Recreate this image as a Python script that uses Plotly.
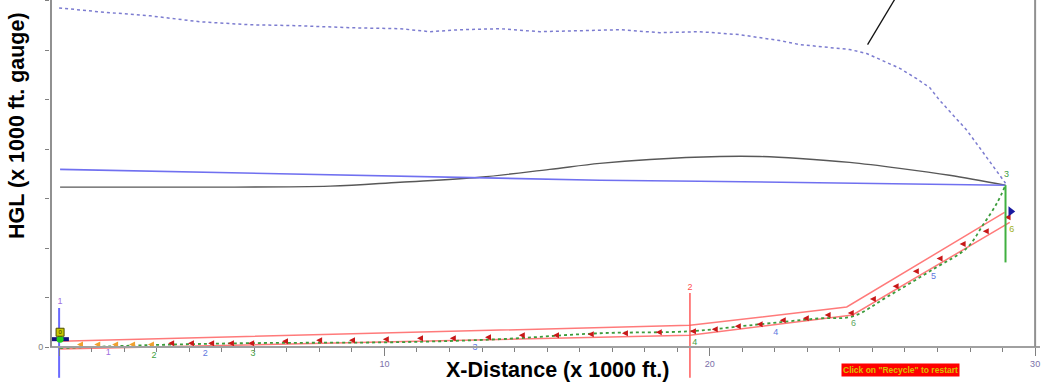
import plotly.graph_objects as go

# ---------------- data (x in 1000 ft, y in 1000 ft gauge) ----------------
hgl_dot_x = [0.0, 1.26, 2.80, 4.33, 5.87, 7.40, 8.94, 10.48, 11.40, 12.32, 13.55, 14.78, 16.01, 17.24,
             18.46, 19.69, 20.92, 22.15, 22.76, 23.78, 24.30, 24.82, 25.31, 25.84, 26.36, 26.76, 27.07,
             27.47, 27.90, 28.29, 29.09]
hgl_dot_y = [6.85, 6.77, 6.69, 6.57, 6.51, 6.49, 6.45, 6.43, 6.37, 6.41, 6.43, 6.37, 6.39, 6.41,
             6.35, 6.37, 6.31, 6.19, 6.11, 6.05, 6.01, 5.93, 5.79, 5.63, 5.42, 5.24, 4.98,
             4.68, 4.38, 4.03, 3.31]

gray_x = [0.03, 4.33, 8.33, 10.48, 12.93, 15.08, 16.62, 18.16, 20.31, 21.54, 22.76, 24.30, 25.84, 27.37, 29.09]
gray_y = [3.23, 3.23, 3.25, 3.33, 3.43, 3.59, 3.71, 3.79, 3.85, 3.85, 3.81, 3.73, 3.61, 3.47, 3.27]

blue_x = [0.03, 4.33, 10.48, 13.55, 16.62, 19.69, 29.09]
blue_y = [3.59, 3.53, 3.45, 3.41, 3.37, 3.35, 3.27]

pipe_top_x = [0.03, 19.39, 24.21, 29.06]
pipe_top_y = [0.12, 0.44, 0.81, 2.72]
pipe_bot_x = [0.03, 19.39, 24.39, 29.22]
pipe_bot_y = [-0.04, 0.24, 0.65, 2.52]

green_x = [0.03, 2.80, 5.87, 10.48, 13.55, 16.62, 19.39, 21.23, 23.38, 24.39, 25.44, 26.91, 27.90, 28.39, 28.82, 29.09]
green_y = [-0.02, 0.04, 0.08, 0.10, 0.16, 0.28, 0.32, 0.44, 0.58, 0.62, 1.01, 1.59, 2.00, 2.46, 2.90, 3.27]

orange_arrow_x = [0.55, 1.08, 1.63, 2.15, 2.73]
orange_arrow_y = [0.05, 0.05, 0.05, 0.05, 0.05]
red_arrow_x = [3.35, 3.96, 4.58, 5.19, 5.81, 6.85, 7.90, 8.91, 9.95, 11.00, 12.01, 13.09, 14.13, 15.18,
               16.25, 17.30, 18.34, 19.39, 20.06, 20.77, 21.44, 22.15, 22.86, 23.53, 24.24, 24.92,
               25.62, 26.24, 26.97, 27.68, 28.39, 29.06]
red_arrow_y = [0.08, 0.08, 0.08, 0.08, 0.08, 0.12, 0.14, 0.14, 0.16, 0.18, 0.18, 0.20, 0.24, 0.24,
               0.26, 0.28, 0.30, 0.32, 0.36, 0.42, 0.46, 0.54, 0.58, 0.65, 0.69, 0.97,
               1.23, 1.53, 1.79, 2.08, 2.34, 2.62]

vline_blue_x = [0.0, 0.0]
vline_blue_y = [0.79, -0.62]
vline_red_x = [19.39, 19.39]
vline_red_y = [1.09, -0.62]
vline_green_x = [29.09, 29.09]
vline_green_y = [3.27, 1.71]

leader_x = [24.85, 25.80]
leader_y = [6.11, 7.15]

label_text = ["1", "1", "2", "2", "3", "3", "4", "4", "6", "5", "3", "6", "2"]
label_x = [0.03, 1.51, 2.92, 4.49, 5.96, 12.78, 19.54, 22.03, 24.42, 26.88, 29.12, 29.28, 19.39]
label_y = [0.91, -0.12, -0.18, -0.14, -0.14, -0.02, 0.08, 0.28, 0.48, 1.43, 3.49, 2.38, 1.19]
label_color = ["#a070e0", "#a070e0", "#3fa03f", "#6078e0", "#3fa03f", "#6078e0", "#3fa03f",
               "#6078e0", "#60a860", "#6078e0", "#3fa03f", "#a0b020", "#ff5050"]

x_tick_vals = [0, 10, 20, 30]
x_tick_text = ["", "10", "20", "30"]
y_tick_vals = [0, 1, 2, 3, 4, 5, 6, 7]
y_tick_text = ["0", "", "", "", "", "", "", ""]

FONT = "Liberation Sans, Arial, sans-serif"

fig = go.Figure()

fig.add_trace(go.Scatter(x=hgl_dot_x, y=hgl_dot_y, mode="lines",
                         line=dict(color="#7c7cd0", width=1.5, dash="dot")))
fig.add_trace(go.Scatter(x=gray_x, y=gray_y, mode="lines", line_shape="spline",
                         line=dict(color="#585858", width=1.4)))
fig.add_trace(go.Scatter(x=blue_x, y=blue_y, mode="lines",
                         line=dict(color="#7070f0", width=1.6)))
fig.add_trace(go.Scatter(x=pipe_top_x, y=pipe_top_y, mode="lines",
                         line=dict(color="#ff7a7a", width=1.5)))
fig.add_trace(go.Scatter(x=pipe_bot_x, y=pipe_bot_y, mode="lines",
                         line=dict(color="#ff7a7a", width=1.5)))
fig.add_trace(go.Scatter(x=green_x, y=green_y, mode="lines", line_shape="spline",
                         line=dict(color="#3c9c3c", width=1.8, dash="dot")))
fig.add_trace(go.Scatter(x=orange_arrow_x, y=orange_arrow_y, mode="markers",
                         marker=dict(symbol="arrow-left", size=6, color="#f0a030")))
fig.add_trace(go.Scatter(x=red_arrow_x, y=red_arrow_y, mode="markers",
                         marker=dict(symbol="arrow-left", size=6, color="#c81818")))
fig.add_trace(go.Scatter(x=vline_blue_x, y=vline_blue_y, mode="lines",
                         line=dict(color="#6a6aff", width=2)))
fig.add_trace(go.Scatter(x=vline_red_x, y=vline_red_y, mode="lines",
                         line=dict(color="#ff5a5a", width=1.5)))
fig.add_trace(go.Scatter(x=vline_green_x, y=vline_green_y, mode="lines",
                         line=dict(color="#40b040", width=2)))
fig.add_trace(go.Scatter(x=leader_x, y=leader_y, mode="lines",
                         line=dict(color="#111111", width=1.3)))
# start-of-line symbols
fig.add_trace(go.Scatter(x=[0.0], y=[0.16], mode="markers",
                         marker=dict(symbol="line-ew", size=14, line=dict(color="#101080", width=4))))
fig.add_trace(go.Scatter(x=[0.03], y=[0.16], mode="markers",
                         marker=dict(symbol="circle", size=7, color="#20d020")))
fig.add_trace(go.Scatter(x=[0.03], y=[0.30], mode="markers+text", text=["0"],
                         textfont=dict(size=6, color="#303000", family=FONT),
                         marker=dict(symbol="square", size=8, color="#c8c800",
                                     line=dict(color="#505000", width=1))))
# end-of-line symbol
fig.add_trace(go.Scatter(x=[29.25], y=[2.74], mode="markers",
                         marker=dict(symbol="triangle-right", size=9, color="#1a1aa0")))
# numbered labels
fig.add_trace(go.Scatter(x=label_x, y=label_y, mode="text", text=label_text,
                         textfont=dict(size=9, color=label_color, family=FONT)))

fig.update_layout(
    width=1045, height=387,
    margin=dict(l=50, r=5, t=0, b=0),
    plot_bgcolor="white", paper_bgcolor="white",
    showlegend=False,
    font=dict(family=FONT),
    xaxis=dict(range=[-0.28, 30.15], anchor="free", position=0.1033,
               showline=True, linecolor="#a0a0a0", linewidth=2,
               showgrid=False, zeroline=False,
               tickmode="array", tickvals=x_tick_vals, ticktext=x_tick_text,
               ticks="outside", ticklen=8, tickcolor="#808080", tickwidth=1,
               tickfont=dict(size=9, color="#7a70a8"),
               minor=dict(tickmode="linear", tick0=0, dtick=1, ticks="outside",
                          ticklen=4, tickcolor="#808080")),
    yaxis=dict(range=[-0.806, 7.01], showline=False, showgrid=False, zeroline=False,
               tickmode="array", tickvals=y_tick_vals, ticktext=y_tick_text,
               ticks="outside", ticklen=4, tickcolor="#808080",
               tickfont=dict(size=9, color="#808080")),
    shapes=[
        dict(type="line", xref="paper", yref="y", x0=0.001, x1=0.001, y0=0, y1=7.2,
             line=dict(color="#909090", width=2)),
        dict(type="line", xref="x", yref="y", x0=30, x1=30, y0=0, y1=7.2,
             line=dict(color="#909090", width=2)),
    ],
    annotations=[
        dict(text="<b>X-Distance (x 1000 ft.)</b>", xref="paper", yref="paper",
             x=(557 - 50) / 990, y=(387 - 370) / 387, xanchor="center", yanchor="middle",
             showarrow=False, font=dict(size=21.5, color="black", family=FONT)),
        dict(text="<b>HGL (x 1000 ft. gauge)</b>", xref="paper", yref="paper",
             x=(17 - 50) / 990, y=(387 - 126) / 387, xanchor="center", yanchor="middle",
             textangle=-90, showarrow=False, font=dict(size=21.5, color="black", family=FONT)),
        dict(text="<b>Click on \"Recycle\" to restart</b>", xref="paper", yref="paper",
             x=(900 - 50) / 990, y=(387 - 370) / 387, xanchor="center", yanchor="middle",
             showarrow=False, bgcolor="#ff0000", borderpad=1,
             font=dict(size=8.5, color="#d8c000", family=FONT)),
    ],
)

fig.write_html("out.html", config={"displayModeBar": False},
               post_script="document.body.style.margin='0px';document.body.style.overflow='hidden';")
